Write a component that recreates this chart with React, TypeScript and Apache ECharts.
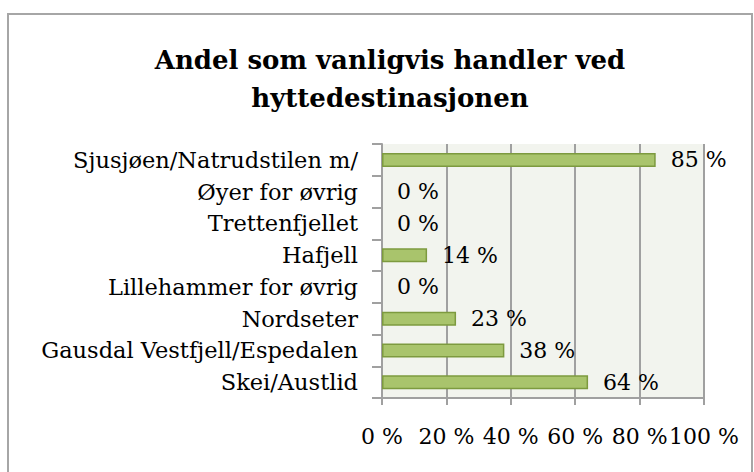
import React, { useEffect, useRef } from "react";
import * as echarts from "echarts";

const categories = [
  "Sjusjøen/Natrudstilen m/",
  "Øyer for øvrig",
  "Trettenfjellet",
  "Hafjell",
  "Lillehammer for øvrig",
  "Nordseter",
  "Gausdal Vestfjell/Espedalen",
  "Skei/Austlid",
];
const values = [85, 0, 0, 14, 0, 23, 38, 64];
const titleText = "Andel som vanligvis handler ved\nhyttedestinasjonen";

const FONT = "'DejaVu Serif', serif";

export default function App() {
  const ref = useRef<HTMLDivElement>(null);
  useEffect(() => {
    if (!ref.current) return;
    const chart = echarts.init(ref.current, undefined, { renderer: "svg" });
    chart.setOption({
      animation: false,
      backgroundColor: "#ffffff",
      title: {
        text: titleText,
        left: 385,
        top: 36,
        textAlign: "center",
        textStyle: {
          fontFamily: FONT,
          fontWeight: "bold",
          fontSize: 26,
          lineHeight: 38,
          color: "#000",
        },
      },
      graphic: [
        {
          type: "rect",
          shape: { x: 8, y: 14, width: 744, height: 480 },
          style: { fill: "none", stroke: "#a6a6a6", lineWidth: 2 },
          z: 0,
        },
      ],
      grid: {
        left: 382,
        right: 50,
        top: 144,
        bottom: 74,
        show: true,
        backgroundColor: "#f2f4ee",
        borderWidth: 0,
      },
      xAxis: {
        type: "value",
        min: 0,
        max: 100,
        interval: 20,
        axisLine: { show: true, lineStyle: { color: "#a0a0a0", width: 2 } },
        axisTick: { show: true, length: 7, lineStyle: { color: "#a0a0a0", width: 2 } },
        splitLine: { show: true, lineStyle: { color: "#a0a0a0", width: 2 } },
        axisLabel: {
          margin: 27,
          fontFamily: FONT,
          fontSize: 22,
          color: "#000",
          formatter: (v: number) => `${v} %`,
        },
      },
      yAxis: {
        type: "category",
        data: categories,
        inverse: true,
        axisLine: { show: true, lineStyle: { color: "#a0a0a0", width: 2 } },
        axisTick: { show: true, length: 10, lineStyle: { color: "#a0a0a0", width: 2 } },
        axisLabel: {
          margin: 24,
          fontFamily: FONT,
          fontSize: 22.5,
          color: "#000",
        },
      },
      series: [
        {
          type: "bar",
          data: values.map((v) =>
            v === 0
              ? { value: v, itemStyle: { color: "rgba(0,0,0,0)", borderWidth: 0 } }
              : v
          ),
          barWidth: 14,
          itemStyle: { color: "#a9c46c", borderColor: "#7d9a3f", borderWidth: 1.5 },
          label: {
            show: true,
            position: "right",
            distance: 15,
            fontFamily: FONT,
            fontSize: 22,
            color: "#000",
            formatter: (p: any) => `${p.value} %`,
          },
        },
      ],
    });
    return () => chart.dispose();
  }, []);
  return (
    <div
      ref={ref}
      style={{ position: "absolute", left: 0, top: 0, width: 754, height: 472 }}
    />
  );
}
